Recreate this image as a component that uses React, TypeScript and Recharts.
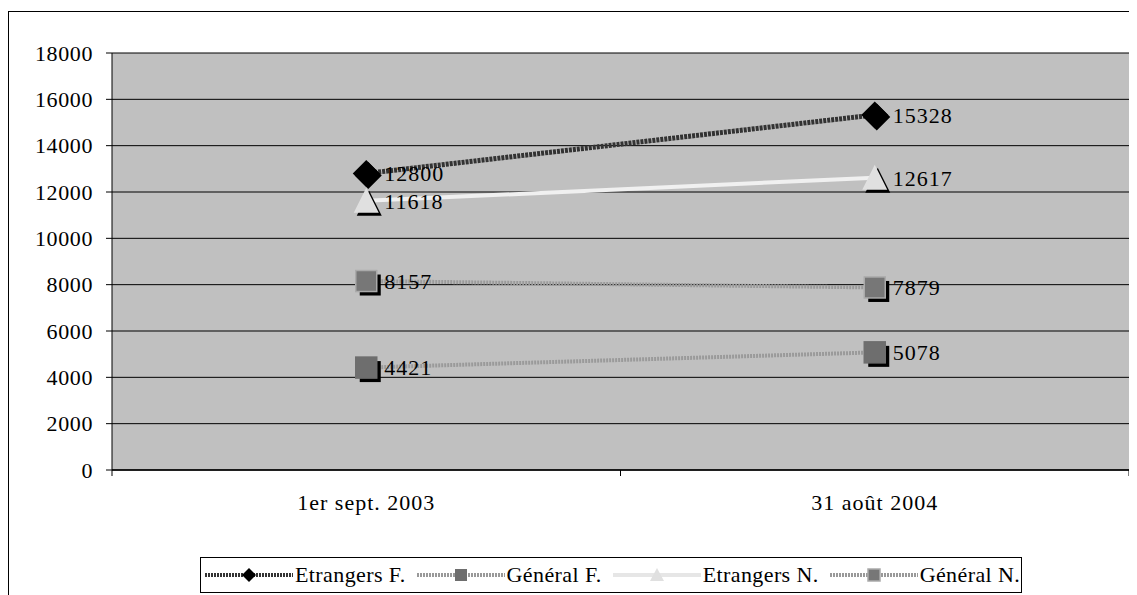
import React from "react";
import { LineChart, Line, XAxis, YAxis, CartesianGrid, LabelList } from "recharts";

const dates = ["1er sept. 2003", "31 août 2004"];
const etrangersF = [12800, 15328];
const generalF = [4421, 5078];
const etrangersN = [11618, 12617];
const generalN = [8157, 7879];
const yTicks = [0, 2000, 4000, 6000, 8000, 10000, 12000, 14000, 16000, 18000];

const rows = dates.map((d, i) => ({
  date: d,
  etrangersF: etrangersF[i],
  generalF: generalF[i],
  etrangersN: etrangersN[i],
  generalN: generalN[i],
}));

const FONT = '"Liberation Serif", "Times New Roman", serif';

const diamondPath = (cx: number, cy: number, r: number) =>
  `M${cx},${cy - r} L${cx + r},${cy} L${cx},${cy + r} L${cx - r},${cy} Z`;
const trianglePath = (cx: number, cy: number, w: number, up: number, down: number) =>
  `M${cx},${cy - up} L${cx + w / 2},${cy + down} L${cx - w / 2},${cy + down} Z`;

function DiamondDot(props: any) {
  const { cx, cy } = props;
  if (cx == null || cy == null) return null;
  return (
    <g>
      <path d={diamondPath(cx + 2, cy + 2, 13.5)} fill="#000" />
      <path d={diamondPath(cx, cy, 13.5)} fill="#000" />
    </g>
  );
}

function TriangleDot(props: any) {
  const { cx, cy } = props;
  if (cx == null || cy == null) return null;
  return (
    <g>
      <path d={trianglePath(cx + 3, cy + 3, 25, 13, 12)} fill="#000" />
      <path d={trianglePath(cx, cy, 25, 13, 12)} fill="#e0e0e0" />
    </g>
  );
}

function squareDot(fill: string, stroke: string) {
  return (props: any) => {
    const { cx, cy } = props;
    if (cx == null || cy == null) return null;
    return (
      <g>
        <rect x={cx - 10.5 + 4} y={cy - 10.5 + 4} width={21} height={21} fill="#000" />
        <rect x={cx - 10.5} y={cy - 10.5} width={21} height={21} fill={fill} stroke={stroke} strokeWidth={1.5} />
      </g>
    );
  };
}

function DateTick(props: any) {
  const { x, y, payload } = props;
  const half = payload && payload.offset ? payload.offset : 254;
  return (
    <g>
      <line x1={x - half} x2={x - half} y1={y - 8} y2={y - 2} stroke="#000" />
      <line x1={x + half} x2={x + half} y1={y - 8} y2={y - 2} stroke="#000" />
      <text x={x} y={y + 24} textAnchor="middle" dominantBaseline="central" fontFamily={FONT} fontSize={22} letterSpacing={1} fill="#000">
        {payload.value}
      </text>
    </g>
  );
}

const labelStyle = { fill: "#000", fontSize: 22, fontFamily: FONT, letterSpacing: 1 };

function LegendItem({ kind, label }: { kind: string; label: string }) {
  let line = "#999";
  let dash = "2 1";
  let marker: React.ReactNode = null;
  if (kind === "ef") {
    line = "#333";
    marker = <path d={diamondPath(44, 9, 7)} fill="#000" />;
  } else if (kind === "gf") {
    marker = <rect x={38} y={3} width={12} height={12} fill="#6e6e6e" />;
  } else if (kind === "en") {
    line = "#e6e6e6";
    dash = "";
    marker = <path d={trianglePath(44, 9, 14, 7, 6)} fill="#e0e0e0" />;
  } else {
    marker = <rect x={38} y={3} width={12} height={12} fill="#777" stroke="#aaa" strokeWidth={1.5} />;
  }
  return (
    <div style={{ display: "flex", alignItems: "center", marginRight: 11 }}>
      <svg width={88} height={18}>
        <line x1={0} x2={88} y1={9} y2={9} stroke={line} strokeWidth={4} strokeDasharray={dash || undefined} />
        {marker}
      </svg>
      <span style={{ marginLeft: 2, fontFamily: FONT, fontSize: 22, letterSpacing: 0.4, color: "#000", whiteSpace: "nowrap" }}>
        {label}
      </span>
    </div>
  );
}

export default function App() {
  return (
    <div
      style={{
        position: "relative",
        marginTop: 3,
        width: 1127,
        height: 599,
        border: "1px solid #000",
        background: "#fff",
      }}
    >
      <LineChart width={1127} height={599} data={rows} margin={{ top: 41, right: 7, left: 0, bottom: 101 }}>
        <CartesianGrid vertical={false} fill="#c0c0c0" stroke="#000" strokeWidth={1} />
        <XAxis
          dataKey="date"
          scale="band"
          height={40}
          tickLine={false}
          axisLine={{ stroke: "#000", strokeWidth: 1.5 }}
          tick={<DateTick />}
          interval={0}
        />
        <YAxis
          domain={[0, 18000]}
          ticks={yTicks}
          width={103}
          tickSize={6}
          tickMargin={13}
          axisLine={{ stroke: "#000" }}
          tickLine={{ stroke: "#000" }}
          tick={{ fill: "#000", fontSize: 22, fontFamily: FONT, letterSpacing: 0.6 }}
          interval={0}
        />
        <YAxis
          yAxisId="right"
          orientation="right"
          domain={[0, 18000]}
          width={0}
          tick={false}
          tickLine={false}
          axisLine={{ stroke: "#808080", strokeWidth: 2 }}
        />
        <Line
          dataKey="etrangersF"
          stroke="#333"
          strokeWidth={5}
          strokeDasharray="3 1"
          dot={<DiamondDot />}
          isAnimationActive={false}
        >
          <LabelList dataKey="etrangersF" position="right" offset={18} style={labelStyle} />
        </Line>
        <Line
          dataKey="generalF"
          stroke="#9a9a9a"
          strokeWidth={4}
          strokeDasharray="2 1"
          dot={squareDot("#6e6e6e", "#6e6e6e")}
          isAnimationActive={false}
        >
          <LabelList dataKey="generalF" position="right" offset={18} style={labelStyle} />
        </Line>
        <Line
          dataKey="etrangersN"
          stroke="#f0f0f0"
          strokeWidth={4}
          dot={<TriangleDot />}
          isAnimationActive={false}
        >
          <LabelList dataKey="etrangersN" position="right" offset={18} style={labelStyle} />
        </Line>
        <Line
          dataKey="generalN"
          stroke="#9a9a9a"
          strokeWidth={4}
          strokeDasharray="2 1"
          dot={squareDot("#777", "#aaa")}
          isAnimationActive={false}
        >
          <LabelList dataKey="generalN" position="right" offset={18} style={labelStyle} />
        </Line>
      </LineChart>
      <div
        style={{
          position: "absolute",
          left: 191,
          top: 545,
          width: 822,
          height: 36,
          border: "1px solid #000",
          display: "flex",
          alignItems: "center",
          paddingLeft: 4,
          boxSizing: "border-box",
          background: "#fff",
        }}
      >
        <LegendItem kind="ef" label="Etrangers F." />
        <LegendItem kind="gf" label="Général F." />
        <LegendItem kind="en" label="Etrangers N." />
        <LegendItem kind="gn" label="Général N." />
      </div>
    </div>
  );
}
